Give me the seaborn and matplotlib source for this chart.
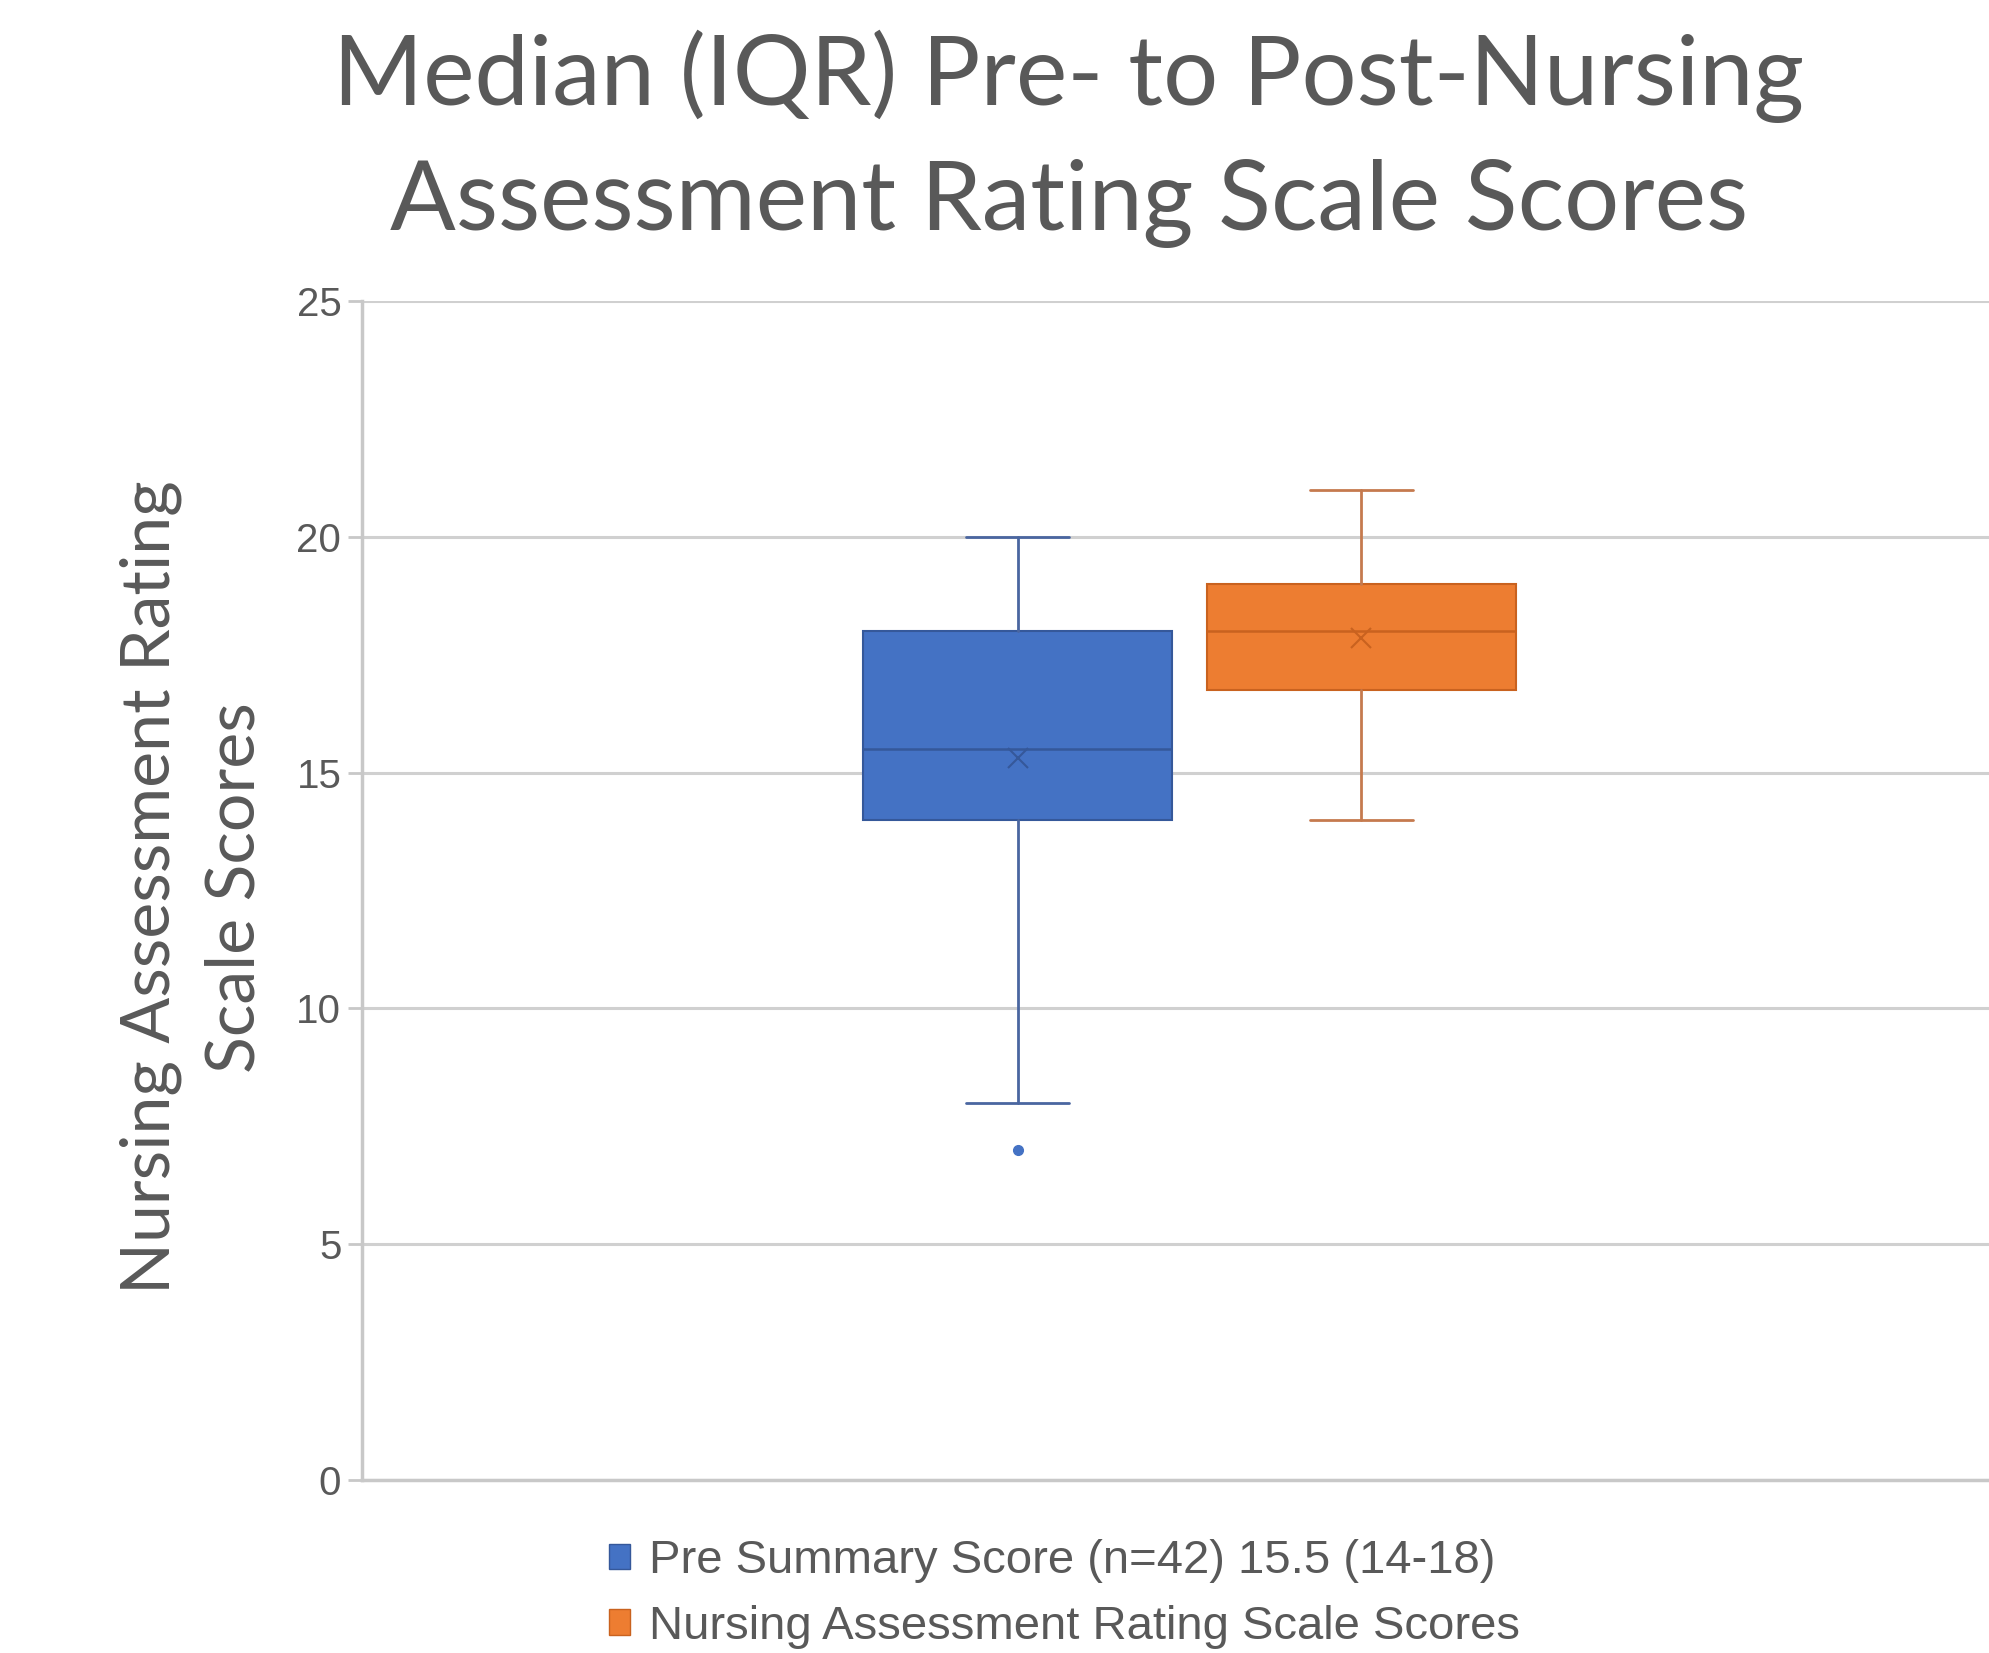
import matplotlib
matplotlib.use("Agg")
import matplotlib.pyplot as plt
import matplotlib.patches as mpatches
import seaborn as sns

# Box statistics
series_names = ["Pre Summary Score (n=42) 15.5 (14-18)",
                "Nursing Assessment Rating Scale Scores"]
whisker_low = [8, 14]
q1_values = [14, 16.75]
medians = [15.5, 18]
q3_values = [18, 19]
whisker_high = [20, 21]
means = [15.3, 17.85]
outliers = [[7], []]
y_ticks = [0, 5, 10, 15, 20, 25]

fill_colors = ["#4472C4", "#ED7D31"]
line_colors = ["#4A66A0", "#C57A4E"]
dark_colors = ["#35589A", "#C9621F"]
text_gray = "#595959"

sns.set_theme(style="white")
plt.rcParams["font.family"] = ["Liberation Sans", "DejaVu Sans"]

fig = plt.figure(figsize=(19.9, 16.53), dpi=100)
ax = fig.add_axes([0.182, 0.1047, 0.818, 0.7132])

stats = []
for i in range(len(series_names)):
    stats.append(dict(whislo=whisker_low[i], q1=q1_values[i], med=medians[i],
                      q3=q3_values[i], whishi=whisker_high[i], mean=means[i],
                      fliers=outliers[i], label=series_names[i]))

for i, st in enumerate(stats):
    ax.bxp([st], positions=[i], widths=0.9, patch_artist=True, showmeans=True,
           showcaps=True, manage_ticks=False,
           boxprops=dict(facecolor=fill_colors[i], edgecolor=dark_colors[i], linewidth=1.5),
           medianprops=dict(color=dark_colors[i], linewidth=1.8),
           whiskerprops=dict(color=line_colors[i], linewidth=2),
           capprops=dict(color=line_colors[i], linewidth=2),
           capwidths=0.3,
           meanprops=dict(marker="x", markeredgecolor=dark_colors[i], markersize=14,
                          markeredgewidth=1.5),
           flierprops=dict(marker="o", markerfacecolor=fill_colors[i],
                           markeredgecolor=fill_colors[i], markersize=7))

ax.set_xlim(-1.908, 2.83)
ax.set_ylim(0, 25)
ax.set_yticks(y_ticks)
ax.set_xticks([])
ax.yaxis.grid(True, color="#D0D0D0", linewidth=2.2)
ax.set_axisbelow(True)
for s in ["top", "right"]:
    ax.spines[s].set_visible(False)
ax.spines["left"].set_color("#C8C8C8")
ax.spines["left"].set_linewidth(2.5)
ax.spines["bottom"].set_color("#C8C8C8")
ax.spines["bottom"].set_linewidth(2.5)
ax.tick_params(axis="y", which="both", left=True, length=10, width=2,
               color="#C8C8C8", labelsize=29, labelcolor=text_gray, pad=5)

fig.text(0.537, 0.982, "Median (IQR) Pre- to Post-Nursing\nAssessment Rating Scale Scores",
         ha="center", va="top", fontsize=70, color=text_gray, family=["Lato", "DejaVu Sans"],
         linespacing=1.5)

fig.text(0.097, 0.463, "Nursing Assessment Rating\nScale Scores", rotation=90,
         ha="center", va="center", multialignment="center", fontsize=49,
         color=text_gray, family=["Lato", "DejaVu Sans"], linespacing=1.44)

handles = [mpatches.Patch(facecolor=fill_colors[i], edgecolor=dark_colors[i], label=series_names[i])
           for i in range(len(series_names))]
fig.legend(handles=handles, loc="upper center", bbox_to_anchor=(0.535, 0.083), frameon=False,
           fontsize=34, labelcolor=text_gray, handlelength=0.45, handleheight=0.45,
           handletextpad=0.4, labelspacing=0.45, borderpad=0)

fig.savefig("out.png", dpi=100)
